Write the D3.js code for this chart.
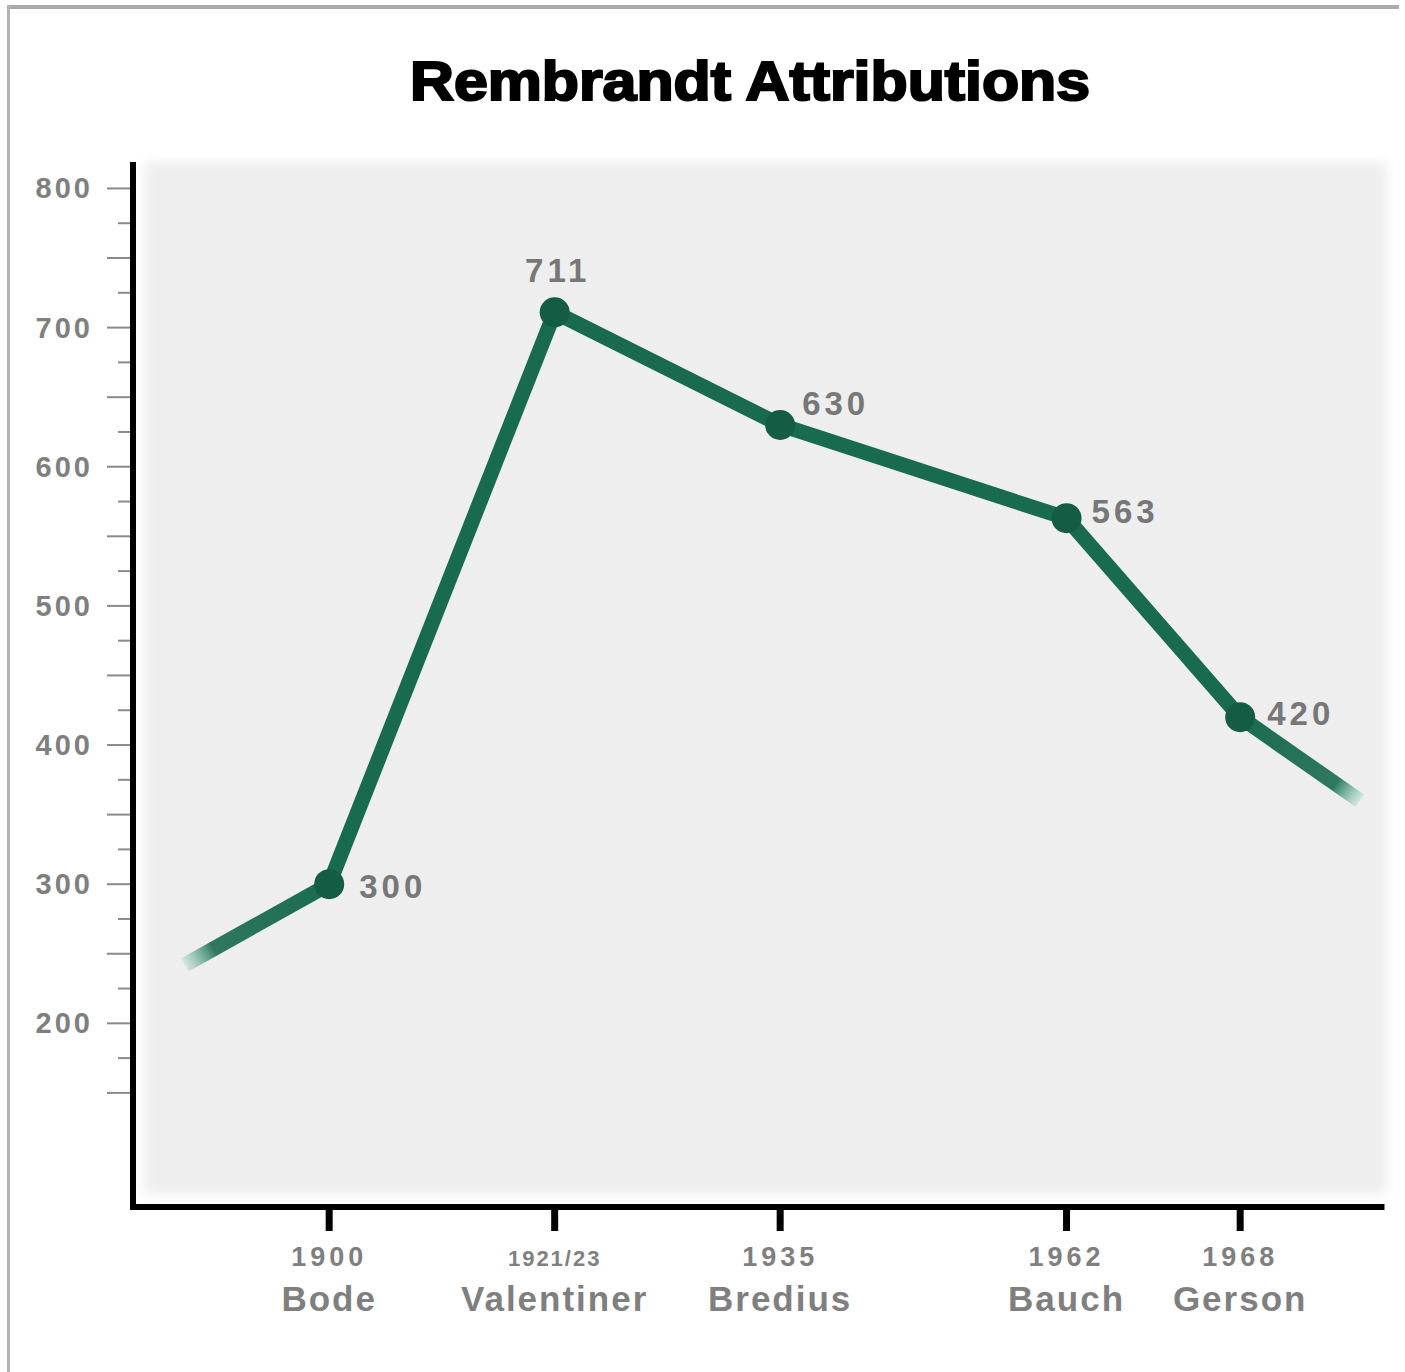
<!DOCTYPE html>
<html>
<head>
<meta charset="utf-8">
<script src="https://cdn.jsdelivr.net/npm/d3@7/dist/d3.min.js"></script>
<style>
  html, body { margin: 0; padding: 0; background: #ffffff; }
  svg { display: block; }
</style>
</head>
<body>
<script>
// ---------- data ----------
const title = "Rembrandt Attributions";
const years = ["1900", "1921/23", "1935", "1962", "1968"];
const authors = ["Bode", "Valentiner", "Bredius", "Bauch", "Gerson"];
const counts = [300, 711, 630, 563, 420];
// position of each catalogue along the (non-uniform) horizontal axis, in column units
const columns = [1, 2, 3, 4.27, 5.04];
// trend continuations drawn beyond the first and last points
const leadIn = { column: 0.36, count: 242 };
const leadOut = { column: 5.57, count: 360 };
const majorTicks = [200, 300, 400, 500, 600, 700, 800];
const minorTicks = d3.range(150, 801, 25);

// ---------- layout ----------
const W = 1405, H = 1372;
const svg = d3.select("body").append("svg").attr("width", W).attr("height", H);
const defs = svg.append("defs");

const x = d3.scaleLinear().domain([0.13, 5.7]).range([133, 1389]);
const y = d3.scaleLinear().domain([68, 819]).range([1207, 162]);

// page frame
svg.append("rect").attr("x", 0).attr("y", 0).attr("width", W).attr("height", H).attr("fill", "#ffffff");
svg.append("rect").attr("x", 8).attr("y", 5).attr("width", 1391).attr("height", 4).attr("fill", "#aaaaaa");
svg.append("rect").attr("x", 7).attr("y", 5).attr("width", 3).attr("height", H).attr("fill", "#b4b4b4");

// plot panel
const blur = defs.append("filter").attr("id", "soft").attr("x", "-5%").attr("y", "-5%").attr("width", "110%").attr("height", "110%");
blur.append("feGaussianBlur").attr("stdDeviation", 6);
svg.append("rect")
  .attr("x", x(0.18)).attr("y", y(819))
  .attr("width", x(5.69) - x(0.18)).attr("height", y(77) - y(819))
  .attr("fill", "#eeeeee").attr("filter", "url(#soft)");

// title
svg.append("text")
  .attr("x", 750).attr("y", 100)
  .attr("text-anchor", "middle")
  .attr("font-family", "Liberation Sans, Arial, sans-serif")
  .attr("font-weight", "bold").attr("font-size", 56)
  .attr("fill", "#000").attr("stroke", "#000").attr("stroke-width", 2.2)
  .attr("textLength", 680).attr("lengthAdjust", "spacingAndGlyphs")
  .text(title);

// y axis ticks
const yTicks = svg.append("g");
yTicks.selectAll("line").data(minorTicks).join("line")
  .attr("x1", d => d % 50 === 0 ? 107 : 118).attr("x2", 131)
  .attr("y1", d => y(d)).attr("y2", d => y(d))
  .attr("stroke", "#8a8a8a").attr("stroke-width", 2);
yTicks.selectAll("text").data(majorTicks).join("text")
  .attr("x", 93).attr("y", d => y(d) + 10)
  .attr("text-anchor", "end")
  .attr("font-family", "Liberation Sans, Arial, sans-serif")
  .attr("font-weight", "bold").attr("font-size", 29)
  .attr("letter-spacing", 3)
  .attr("fill", "#7f7f7f")
  .text(d => d);

// axes lines
svg.append("line").attr("x1", x(0.13)).attr("x2", x(0.13)).attr("y1", y(819)).attr("y2", y(68) + 3)
  .attr("stroke", "#000").attr("stroke-width", 6);
svg.append("line").attr("x1", x(0.13) - 3).attr("x2", x(5.68)).attr("y1", y(68)).attr("y2", y(68))
  .attr("stroke", "#000").attr("stroke-width", 6);

// x ticks & labels
const xg = svg.append("g");
xg.selectAll("line").data(columns).join("line")
  .attr("x1", d => x(d)).attr("x2", d => x(d))
  .attr("y1", y(68)).attr("y2", y(68) + 24)
  .attr("stroke", "#000").attr("stroke-width", 7);
xg.selectAll("text.year").data(years).join("text").attr("class", "year")
  .attr("x", (d, i) => x(columns[i])).attr("y", 1266)
  .attr("text-anchor", "middle")
  .attr("font-family", "Liberation Sans, Arial, sans-serif")
  .attr("font-weight", "bold")
  .attr("font-size", d => d.length > 4 ? 22 : 27)
  .attr("letter-spacing", d => d.length > 4 ? 2 : 4)
  .attr("fill", "#7f7f7f")
  .text(d => d);
xg.selectAll("text.author").data(authors).join("text").attr("class", "author")
  .attr("x", (d, i) => x(columns[i])).attr("y", 1311)
  .attr("text-anchor", "middle")
  .attr("font-family", "Liberation Sans, Arial, sans-serif")
  .attr("font-weight", "bold").attr("font-size", 35)
  .attr("letter-spacing", 2)
  .attr("fill", "#7f7f7f")
  .text(d => d);

// data
const pts = counts.map((c, i) => ({ column: columns[i], count: c }));
const lineColor = "#196b4f";
const line = d3.line().x(d => x(d.column)).y(d => y(d.count));

function tail(id, from, to) {
  const g = defs.append("linearGradient").attr("id", id)
    .attr("gradientUnits", "userSpaceOnUse")
    .attr("x1", x(from.column)).attr("y1", y(from.count))
    .attr("x2", x(to.column)).attr("y2", y(to.count));
  g.append("stop").attr("offset", "0%").attr("stop-color", lineColor).attr("stop-opacity", 1);
  g.append("stop").attr("offset", "80%").attr("stop-color", lineColor).attr("stop-opacity", 0.9);
  g.append("stop").attr("offset", "100%").attr("stop-color", "#3aa888").attr("stop-opacity", 0.15);
  svg.append("path").datum([from, to])
    .attr("d", line).attr("fill", "none")
    .attr("stroke", `url(#${id})`).attr("stroke-width", 15);
}
tail("tailL", pts[0], leadIn);
tail("tailR", pts[pts.length - 1], leadOut);

svg.append("path").datum(pts)
  .attr("d", line).attr("fill", "none")
  .attr("stroke", lineColor).attr("stroke-width", 15)
  .attr("stroke-linejoin", "round").attr("stroke-linecap", "round");

svg.append("g").selectAll("circle").data(pts).join("circle")
  .attr("cx", d => x(d.column)).attr("cy", d => y(d.count))
  .attr("r", 15).attr("fill", "#155c44");

// value labels (offsets relative to each point)
const labelOffsets = [[30, 14], [3, -30], [22, -10], [25, 5], [27, 8]];
const labelAnchors = ["start", "middle", "start", "start", "start"];
svg.append("g").selectAll("text").data(pts).join("text")
  .attr("x", (d, i) => x(d.column) + labelOffsets[i][0])
  .attr("y", (d, i) => y(d.count) + labelOffsets[i][1])
  .attr("text-anchor", (d, i) => labelAnchors[i])
  .attr("font-family", "Liberation Sans, Arial, sans-serif")
  .attr("font-weight", "bold").attr("font-size", 33)
  .attr("letter-spacing", 4)
  .attr("fill", "#777777")
  .text(d => d.count);
</script>
</body>
</html>
